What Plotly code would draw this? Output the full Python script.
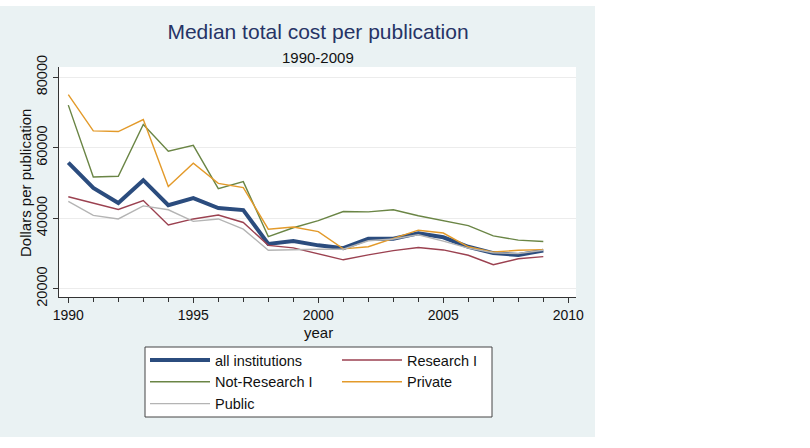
import plotly.graph_objects as go

years = list(range(1990, 2010))
all_inst = [55800, 48600, 44300, 50800, 43700, 45700, 42900, 42300, 32700, 33500,
            32300, 31500, 34200, 34200, 35700, 34600, 31900, 30100, 29600, 30800]
research1 = [46100, 44300, 42500, 45000, 38100, 39800, 40900, 38800, 32300, 31600,
             29800, 28200, 29600, 30800, 31700, 31000, 29500, 26800, 28500, 29100]
not_research1 = [72100, 51700, 51900, 66600, 59000, 60700, 48400, 50400, 34800, 37300,
                 39300, 41900, 41800, 42400, 40700, 39300, 37900, 35000, 33800, 33400]
private = [75100, 64800, 64600, 68000, 49000, 55600, 49900, 48700, 36900, 37500,
           36200, 31300, 31900, 34200, 36600, 35800, 31900, 30400, 30900, 31100]
public = [44800, 40800, 39800, 43500, 42400, 39100, 39800, 36900, 30900, 31100,
          31200, 31200, 33600, 34100, 35300, 33500, 31500, 30200, 30000, 30900]

series = [
    ("all institutions", all_inst, "#2b4c7e", 4),
    ("Research I", research1, "#9b4150", 1.4),
    ("Not-Research I", not_research1, "#6a8545", 1.4),
    ("Private", private, "#e39a2a", 1.4),
    ("Public", public, "#b4b4b4", 1.4),
]

FONT = "Liberation Sans, Arial, sans-serif"
W, H = 810, 448
L, R, T, B = 59, 576, 67, 297
pw, ph = R - L, B - T

def px(x):
    return (x - L) / pw

def py(y):
    return (B - y) / ph

fig = go.Figure()
for name, vals, color, width in series:
    fig.add_trace(go.Scatter(x=years, y=vals, name=name, mode="lines",
                             line=dict(color=color, width=width)))

# outer Stata-style panel
fig.add_shape(type="rect", xref="paper", yref="paper",
              x0=px(0), x1=px(595), y0=py(437), y1=py(6),
              fillcolor="#eaf2f3", line=dict(width=0), layer="below")
# white plot region
fig.add_shape(type="rect", xref="paper", yref="paper",
              x0=0, x1=1, y0=0, y1=1,
              fillcolor="white", line=dict(width=0), layer="below")
# legend box
fig.add_shape(type="rect", xref="paper", yref="paper",
              x0=px(145), x1=px(492), y0=py(417), y1=py(347),
              fillcolor="white", line=dict(width=1, color="#444"), layer="below")

fig.update_layout(
    width=W, height=H,
    margin=dict(l=L, r=W - R, t=T, b=H - B),
    paper_bgcolor="white", plot_bgcolor="rgba(0,0,0,0)",
    font=dict(family=FONT, color="#111", size=14),
    title=dict(text="Median total cost per publication", x=318 / W, xanchor="center",
               y=1 - 32 / H, yanchor="middle",
               font=dict(size=21, color="#263466", family=FONT)),
    showlegend=True,
    legend=dict(orientation="h", x=px(145), xanchor="left", y=py(344), yanchor="top",
                bgcolor="rgba(0,0,0,0)", borderwidth=0,
                font=dict(size=14.5, family=FONT, color="#111"),
                itemwidth=60, entrywidth=117, entrywidthmode="pixels",
                traceorder="normal"),
    annotations=[
        dict(text="1990-2009", xref="paper", yref="paper", x=px(318), y=py(57),
             xanchor="center", yanchor="middle", showarrow=False,
             font=dict(size=15, family=FONT, color="#111")),
        dict(text="year", xref="paper", yref="paper", x=px(318), y=py(332),
             xanchor="center", yanchor="middle", showarrow=False,
             font=dict(size=15, family=FONT, color="#111")),
        dict(text="Dollars per publication", xref="paper", yref="paper", x=px(25),
             y=py(183), xanchor="center", yanchor="middle", showarrow=False,
             textangle=-90, font=dict(size=15, family=FONT, color="#111")),
    ],
)

fig.update_xaxes(range=[1990 - (68.3 - L) / 25, 2010 + (R - 568.3) / 25],
                 tick0=1990, dtick=5, ticks="outside", ticklen=5, tickwidth=1,
                 tickcolor="#333", showline=True, linecolor="#333", linewidth=1,
                 showgrid=False, zeroline=False, tickfont=dict(size=14),
                 minor=dict(dtick=1, tick0=1990, ticks="outside", ticklen=4,
                            tickcolor="#333", showgrid=False))
y_top = 80000 + (77.3 - T) / 3.5233 * 1000
y_bot = 20000 - (B - 288.7) / 3.5233 * 1000
fig.update_yaxes(range=[y_bot, y_top], tick0=20000, dtick=20000, tickformat="d",
                 ticks="outside", ticklen=5, tickwidth=1, tickcolor="#333",
                 showline=True, linecolor="#333", linewidth=1,
                 showgrid=True, gridcolor="#ececec", gridwidth=1, zeroline=False,
                 tickangle=-90, tickfont=dict(size=14.5))

fig.write_html("out.html")
